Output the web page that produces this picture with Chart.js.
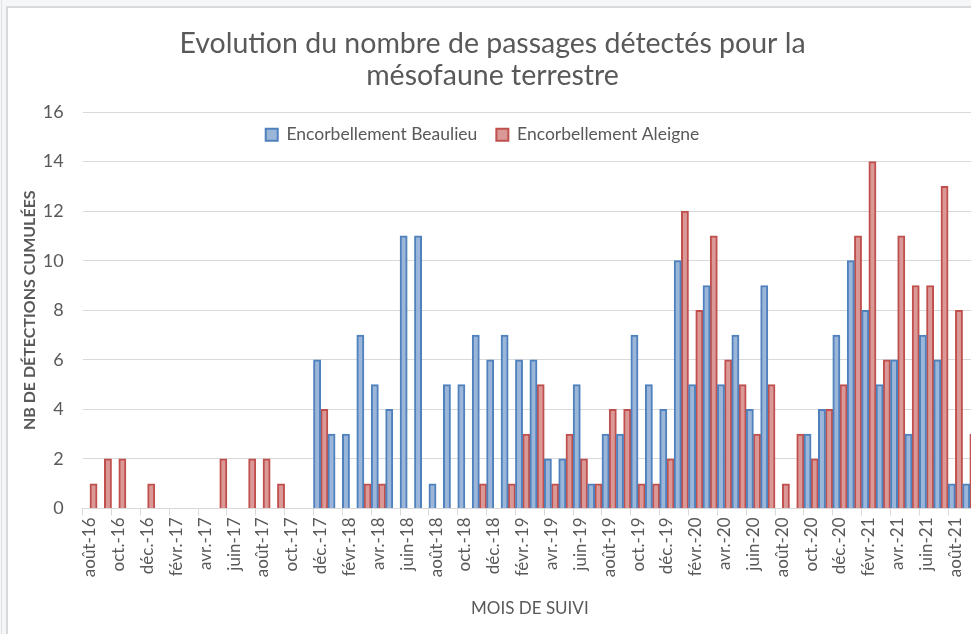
<!DOCTYPE html>
<html lang="fr">
<head>
<meta charset="utf-8">
<title>Passages mésofaune terrestre</title>
<script src="https://cdn.jsdelivr.net/npm/chart.js@4.4.1/dist/chart.umd.min.js"></script>
<style>
  html, body { margin: 0; padding: 0; overflow: hidden; background: #f5f6f8; }
  body { width: 971px; height: 634px; position: relative; }
  .trait { position: absolute; left: 1px; top: 0; width: 1px; height: 634px; background: #e2e2e2; }
  .cadre { position: absolute; left: 6px; top: 6px; width: 1000px; height: 720px; border: 2px solid #d9d9d9; background: #fff; }
  .graph { position: absolute; left: 0; top: 0; width: 972px; height: 700px; }
</style>
</head>
<body>
<div class="trait"></div>
<div class="cadre">
  <div class="graph"><canvas id="myChart"></canvas></div>
</div>
<script>
// Mois de suivi (aout 2016 -> sept 2021)
const mois = [
  'août-16', 'sept.-16', 'oct.-16', 'nov.-16', 'déc.-16',
  'janv.-17', 'févr.-17', 'mars-17', 'avr.-17', 'mai-17', 'juin-17', 'juil.-17', 'août-17', 'sept.-17', 'oct.-17', 'nov.-17', 'déc.-17',
  'janv.-18', 'févr.-18', 'mars-18', 'avr.-18', 'mai-18', 'juin-18', 'juil.-18', 'août-18', 'sept.-18', 'oct.-18', 'nov.-18', 'déc.-18',
  'janv.-19', 'févr.-19', 'mars-19', 'avr.-19', 'mai-19', 'juin-19', 'juil.-19', 'août-19', 'sept.-19', 'oct.-19', 'nov.-19', 'déc.-19',
  'janv.-20', 'févr.-20', 'mars-20', 'avr.-20', 'mai-20', 'juin-20', 'juil.-20', 'août-20', 'sept.-20', 'oct.-20', 'nov.-20', 'déc.-20',
  'janv.-21', 'févr.-21', 'mars-21', 'avr.-21', 'mai-21', 'juin-21', 'juil.-21', 'août-21', 'sept.-21'
];

// Nb de detections par mois
const beaulieu = [
  0, 0, 0, 0, 0,
  0, 0, 0, 0, 0, 0, 0, 0, 0, 0, 0, 6,
  3, 3, 7, 5, 4, 11, 11, 1, 5, 5, 7, 6,
  7, 6, 6, 2, 2, 5, 1, 3, 3, 7, 5, 4,
  10, 5, 9, 5, 7, 4, 9, 0, 0, 3, 4, 7,
  10, 8, 5, 6, 3, 7, 6, 1, 1
];
const aleigne = [
  1, 2, 2, 0, 1,
  0, 0, 0, 0, 2, 0, 2, 2, 1, 0, 0, 4,
  0, 0, 1, 1, 0, 0, 0, 0, 0, 0, 1, 0,
  1, 3, 5, 1, 3, 2, 1, 4, 4, 1, 1, 2,
  12, 8, 11, 6, 5, 3, 5, 1, 3, 2, 4, 5,
  11, 14, 6, 11, 9, 9, 13, 8, 3
];

const yMax = 16;
const yPas = 2;

const gris = '#595959';
const police = 'Lato, "Open Sans", sans-serif';

// la legende est calculee en bas puis remontee dans la zone du graphe (comme dans Excel)
const placeLegende = {
  id: 'placeLegende',
  afterLayout(chart) {
    const l = chart.legend;
    const h = l.bottom - l.top;
    l.top = chart.chartArea.top - 5;
    l.bottom = l.top + h;
    l.left -= 10; l.right -= 10;
  }
};

const ctx = document.getElementById('myChart').getContext('2d');

const myChart = new Chart(ctx, {
  type: 'bar',
  data: {
    labels: mois,
    datasets: [{
      label: 'Encorbellement Beaulieu',
      data: beaulieu,
      backgroundColor: '#9cb6da',
      borderColor: '#4f81bd',
      borderWidth: 2
    }, {
      label: 'Encorbellement Aleigne',
      data: aleigne,
      backgroundColor: '#da9997',
      borderColor: '#c0504d',
      borderWidth: 2
    }]
  },
  plugins: [placeLegende],
  options: {
    responsive: true,
    maintainAspectRatio: false,
    animation: false,
    categoryPercentage: 1,
    barPercentage: 1,
    layout: { padding: { left: 0, right: 3, top: 0, bottom: 38.5 } },
    plugins: {
      title: {
        display: true,
        text: ['Evolution du nombre de passages détectés pour la', 'mésofaune terrestre'],
        color: gris,
        font: { family: police, size: 28.5, weight: 'normal', lineHeight: 32 / 28.5 },
        padding: { top: 20, bottom: 20 }
      },
      legend: {
        position: 'bottom',
        align: 'center',
        labels: {
          color: gris,
          font: { family: police, size: 17.5 },
          boxWidth: 12,
          boxHeight: 12,
          padding: 19
        }
      },
      tooltip: { enabled: false }
    },
    scales: {
      x: {
        grid: {
          drawOnChartArea: false,
          drawTicks: true,
          tickLength: 7,
          color: c => (c.index % 2 === 0 ? '#d9d9d9' : 'rgba(0,0,0,0)')
        },
        border: { color: '#d9d9d9' },
        ticks: {
          color: gris,
          font: { family: police, size: 17 },
          autoSkip: false,
          minRotation: 90,
          maxRotation: 90,
          padding: 2,
          callback: (v, i) => (i % 2 === 0 ? mois[i] : '')
        },
        title: {
          display: true,
          text: 'MOIS DE SUIVI',
          color: gris,
          font: { family: police, size: 17 },
          padding: { top: 4, bottom: 4 }
        },
        afterFit: s => { s.height = 114.5; s.paddingLeft = 0; s.paddingRight = 0; }
      },
      y: {
        min: 0,
        max: yMax,
        grid: { color: '#d9d9d9', drawTicks: false },
        border: { display: false },
        ticks: {
          stepSize: yPas,
          color: gris,
          font: { family: police, size: 18 },
          padding: 19
        },
        title: {
          display: true,
          text: 'NB DE DÉTECTIONS CUMULÉES',
          color: gris,
          font: { family: police, size: 16, weight: 'bold' },
          padding: { top: 12, bottom: 0 }
        },
        afterFit: s => { s.width = 74.7; }
      }
    }
  }
});
</script>
</body>
</html>
